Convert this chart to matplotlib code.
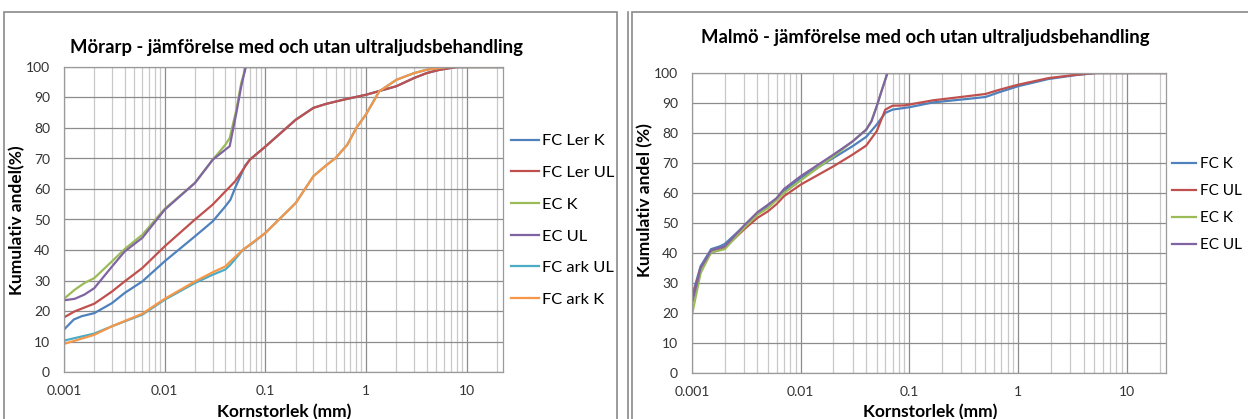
import numpy as np
import matplotlib
matplotlib.use("Agg")
import matplotlib.pyplot as plt
from matplotlib.patches import Rectangle
from matplotlib.ticker import LogLocator, FixedLocator, NullFormatter

plt.rcParams['font.family'] = ['Lato', 'DejaVu Sans']

# ---- Mörarp (left chart) ----
mor_fc_ler_k_x = [0.001, 0.00125, 0.0015, 0.002, 0.003, 0.004, 0.006, 0.01, 0.02, 0.03, 0.04, 0.045,
                  0.05, 0.063, 0.07, 0.1, 0.2, 0.3, 0.4, 0.6, 1, 2, 3, 4, 5.4, 8, 22.9]
mor_fc_ler_k_y = [13.9, 17.2, 18.3, 19.3, 22.6, 25.9, 29.7, 36.3, 44.5, 49.4, 54.3, 56.5,
                  60.3, 67.7, 69.6, 73.9, 82.7, 86.6, 87.9, 89.3, 90.9, 93.7, 96.4, 98, 99.1, 100, 100]
mor_fc_ler_ul_x = [0.001, 0.00128, 0.002, 0.003, 0.004, 0.006, 0.01, 0.02, 0.03, 0.04, 0.05, 0.063,
                   0.07, 0.1, 0.2, 0.3, 0.4, 0.6, 1, 2, 3, 4, 5.4, 8, 22.9]
mor_fc_ler_ul_y = [17.9, 19.9, 22.4, 26.4, 29.7, 34.1, 41.2, 50, 54.9, 59.2, 62.5, 67.4,
                   69.6, 73.9, 82.7, 86.6, 87.9, 89.3, 90.9, 93.7, 96.4, 98, 99.1, 100, 100]
mor_ec_k_x = [0.001, 0.00128, 0.0016, 0.002, 0.003, 0.004, 0.006, 0.01, 0.02, 0.03, 0.04, 0.0442,
              0.0515, 0.0576, 0.0638, 22.9]
mor_ec_k_y = [24.0, 27.0, 29.2, 30.8, 36.3, 40.3, 45.0, 53.5, 62.0, 69.6, 74.5, 76.7,
              86.0, 94.8, 100, 100]
mor_ec_ul_x = [0.001, 0.00128, 0.0016, 0.002, 0.003, 0.004, 0.006, 0.01, 0.02, 0.03, 0.04, 0.0442,
               0.0515, 0.0576, 0.0638, 22.9]
mor_ec_ul_y = [23.5, 24.0, 25.4, 27.5, 34.6, 39.5, 44.0, 53.2, 62.0, 69.6, 72.9, 74.0,
               85.0, 93.7, 100, 100]
mor_fc_ark_ul_x = [0.001, 0.002, 0.003, 0.006, 0.01, 0.02, 0.03, 0.04, 0.045, 0.06, 0.075, 0.1,
                   0.2, 0.3, 0.4, 0.5, 0.65, 0.8, 1, 1.35, 2, 3, 4, 6.3, 22.9]
mor_fc_ark_ul_y = [10.3, 12.6, 15.0, 18.8, 23.7, 29.2, 31.9, 33.6, 35.2, 40.1, 42.3, 45.6,
                   55.4, 64.2, 67.7, 70.2, 74.5, 80.0, 84.5, 92.0, 95.8, 98.0, 99.1, 100, 100]
mor_fc_ark_k_x = [0.001, 0.002, 0.003, 0.006, 0.01, 0.02, 0.03, 0.04, 0.045, 0.06, 0.075, 0.1,
                  0.2, 0.3, 0.4, 0.5, 0.65, 0.8, 1, 1.35, 2, 3, 4, 6.3, 22.9]
mor_fc_ark_k_y = [9.2, 12.2, 15.0, 19.1, 24.0, 29.7, 32.7, 34.6, 36.3, 40.1, 42.5, 45.6,
                  55.4, 64.2, 67.7, 70.2, 74.5, 80.0, 84.5, 92.0, 95.8, 98.0, 99.1, 100, 100]

# ---- Malmö (right chart) ----
mal_fc_k_x = [0.001, 0.0012, 0.0015, 0.0018, 0.002, 0.003, 0.004, 0.005, 0.006, 0.007, 0.01, 0.02,
              0.03, 0.04, 0.05, 0.06, 0.07, 0.1, 0.165, 0.33, 0.5, 0.67, 1, 1.9, 3.4, 5.2, 22.9]
mal_fc_k_y = [25.6, 35.6, 41.3, 42.2, 43.0, 48.9, 53.1, 55.6, 57.8, 60.6, 65.0, 71.7,
              75.6, 78.7, 82.8, 86.7, 87.8, 88.6, 90.2, 91.3, 92.0, 93.6, 95.6, 98.0, 99.3, 100, 100]
mal_fc_ul_x = [0.001, 0.0012, 0.0015, 0.0018, 0.002, 0.003, 0.004, 0.005, 0.006, 0.007, 0.01, 0.02,
               0.03, 0.04, 0.05, 0.06, 0.07, 0.09, 0.165, 0.33, 0.5, 0.67, 1, 1.9, 3.4, 5.2, 22.9]
mal_fc_ul_y = [24.4, 35.0, 40.2, 41.1, 41.7, 47.8, 51.7, 53.9, 56.3, 58.9, 62.8, 68.9,
               72.8, 75.8, 80.6, 87.8, 89.1, 89.2, 90.9, 92.2, 93.0, 94.4, 96.1, 98.3, 99.4, 100, 100]
mal_ec_k_x = [0.001, 0.0012, 0.0015, 0.002, 0.003, 0.004, 0.005, 0.007, 0.01, 0.02, 0.023,
              0.03, 0.04, 0.0447, 0.05, 0.0553, 0.0628, 22.9]
mal_ec_k_y = [19.4, 33.3, 40.2, 41.3, 48.3, 52.8, 55.0, 60.0, 64.2, 72.2, 73.9,
              77.2, 81.1, 83.9, 88.9, 93.9, 100, 100]
mal_ec_ul_x = [0.001, 0.0012, 0.0015, 0.002, 0.003, 0.004, 0.005, 0.006, 0.007, 0.01, 0.02,
               0.03, 0.04, 0.0447, 0.05, 0.0553, 0.0628, 22.9]
mal_ec_ul_y = [23.3, 35.0, 40.9, 42.2, 49.1, 53.6, 56.1, 58.3, 61.3, 65.6, 72.8,
               77.2, 81.1, 83.9, 88.9, 93.9, 100, 100]

left_labels = ['FC Ler K', 'FC Ler UL', 'EC K', 'EC UL', 'FC ark UL', 'FC ark K']
right_labels = ['FC K', 'FC UL', 'EC K', 'EC UL']
left_title = 'Mörarp - jämförelse med och utan ultraljudsbehandling'
right_title = 'Malmö - jämförelse med och utan ultraljudsbehandling'
x_ticks = [0.001, 0.01, 0.1, 1, 10]
x_tick_labels = ['0.001', '0.01', '0.1', '1', '10']
y_ticks = list(range(0, 101, 10))

colors = ['#4F81BD', '#C0504D', '#9BBB59', '#8064A2', '#4BACC6', '#F79646']

W, H = 1248, 419
fig = plt.figure(figsize=(W / 100, H / 100), dpi=100)


def fx(px):
    return px / W


def fy(py):
    return 1 - py / H


def setup(ax):
    ax.set_xscale('log')
    ax.set_xlim(0.001, 22.9)
    ax.set_ylim(0, 100)
    ax.xaxis.set_major_locator(FixedLocator(x_ticks))
    ax.set_xticklabels(x_tick_labels)
    ax.xaxis.set_minor_locator(LogLocator(base=10, subs=np.arange(2, 10), numticks=20))
    ax.xaxis.set_minor_formatter(NullFormatter())
    ax.set_yticks(y_ticks)
    ax.grid(True, which='major', color='#8c8c8c', lw=0.9)
    ax.grid(True, which='minor', axis='x', color='#c8c8c8', lw=0.9)
    ax.tick_params(which='both', length=0, labelsize=10, colors='#333333')
    ax.tick_params(axis='y', pad=10)
    ax.tick_params(axis='x', pad=9)
    for s in ax.spines.values():
        s.set_color('#9a9a9a')
        s.set_linewidth(0.9)
    ax.set_axisbelow(True)


# chart frames
fig.add_artist(Rectangle((fx(4), fy(430)), fx(613), fy(12) - fy(430), transform=fig.transFigure,
                         fill=False, edgecolor='#8a8a8a', lw=1.2))
fig.add_artist(Rectangle((fx(632), fy(430)), fx(625), fy(12) - fy(430), transform=fig.transFigure,
                         fill=False, edgecolor='#8a8a8a', lw=1.2))
fig.add_artist(plt.Line2D([fx(628), fx(628)], [0, fy(12)], transform=fig.transFigure,
                          color='#8a8a8a', lw=1.2))

# left chart
ax1 = fig.add_axes([fx(64), fy(372), fx(503 - 64), fy(67) - fy(372)])
setup(ax1)
ax1.plot(mor_fc_ler_k_x, mor_fc_ler_k_y, color=colors[0], lw=1.6, label=left_labels[0])
ax1.plot(mor_fc_ler_ul_x, mor_fc_ler_ul_y, color=colors[1], lw=1.6, label=left_labels[1])
ax1.plot(mor_ec_k_x, mor_ec_k_y, color=colors[2], lw=1.6, label=left_labels[2])
ax1.plot(mor_ec_ul_x, mor_ec_ul_y, color=colors[3], lw=1.6, label=left_labels[3])
ax1.plot(mor_fc_ark_ul_x, mor_fc_ark_ul_y, color=colors[4], lw=1.6, label=left_labels[4])
ax1.plot(mor_fc_ark_k_x, mor_fc_ark_k_y, color=colors[5], lw=1.6, label=left_labels[5])
fig.legend(handles=ax1.get_lines(), loc='upper left', bbox_to_anchor=(fx(511), fy(134)),
           frameon=False, fontsize=11.8, handlelength=1.7, handletextpad=0.2, labelspacing=1.05,
           borderaxespad=0, borderpad=0)
fig.text(fx(297), fy(47), left_title, ha='center', va='center', fontsize=13.3, fontweight='bold')
fig.text(fx(17), fy(220), 'Kumulativ andel(%)', rotation=90, ha='center', va='center',
         fontsize=12.5, fontweight='bold')
fig.text(fx(284), fy(412), 'Kornstorlek (mm)', ha='center', va='center', fontsize=12.5, fontweight='bold')

# right chart
ax2 = fig.add_axes([fx(692), fy(373), fx(1166 - 692), fy(73) - fy(373)])
setup(ax2)
ax2.plot(mal_fc_k_x, mal_fc_k_y, color=colors[0], lw=1.6, label=right_labels[0])
ax2.plot(mal_fc_ul_x, mal_fc_ul_y, color=colors[1], lw=1.6, label=right_labels[1])
ax2.plot(mal_ec_k_x, mal_ec_k_y, color=colors[2], lw=1.6, label=right_labels[2])
ax2.plot(mal_ec_ul_x, mal_ec_ul_y, color=colors[3], lw=1.6, label=right_labels[3])
fig.legend(handles=ax2.get_lines(), loc='upper left', bbox_to_anchor=(fx(1172), fy(157)),
           frameon=False, fontsize=11, handlelength=1.6, handletextpad=0.2, labelspacing=0.85,
           borderaxespad=0, borderpad=0)
fig.text(fx(925), fy(37), right_title, ha='center', va='center', fontsize=13.3, fontweight='bold')
fig.text(fx(645), fy(200), 'Kumulativ andel (%)', rotation=90, ha='center', va='center',
         fontsize=12.5, fontweight='bold')
fig.text(fx(930), fy(412), 'Kornstorlek (mm)', ha='center', va='center', fontsize=12.5, fontweight='bold')

fig.savefig('out.png', dpi=100)
